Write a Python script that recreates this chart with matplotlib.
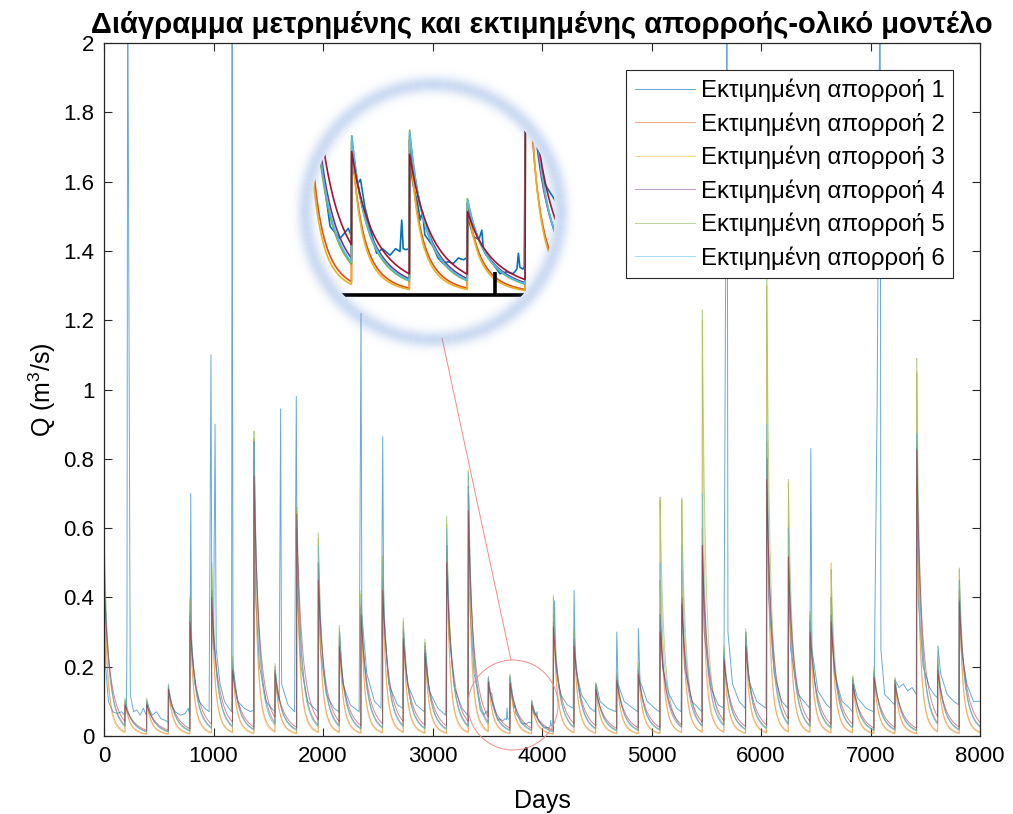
import numpy as np
import matplotlib
matplotlib.use("Agg")
import matplotlib.pyplot as plt
from matplotlib.patches import Circle, Wedge

# -------------------------------
# 1. Data
# -------------------------------

# start day of every model event (the vertical jumps)
event_days = [0, 192, 390, 588, 785, 983, 1174, 1370, 1562, 1760, 1957,
              2149, 2347, 2545, 2733, 2931, 3129, 3327, 3510, 3708, 3906,
              4104, 4293, 4491, 4683, 4880, 5078, 5276, 5464, 5662, 5860,
              6052, 6250, 6448, 6640, 6838, 7032, 7224, 7422, 7614, 7811]

# peak of each model run at every event
peak_orange = [.55, .10, .10, .14, .36, .42, .21, .80, .19, .60, .50,
               .29, .38, .46, .31, .26, .55, .70, .165, .168, .10,
               .35, .28, .145, .175, .19, .45, .48, .60, .24, .29,
               .85, .60, .33, .40, .165, .18, .16, .85, .21, .42]
peak_yellow = [.58, .10, .10, .145, .39, .48, .22, .86, .20, .65, .57,
               .31, .41, .50, .33, .27, .61, .75, .168, .172, .10,
               .40, .30, .15, .18, .20, .68, .68, 1.20, .25, .30,
               1.30, .73, .35, .50, .17, .19, .165, 1.05, .22, .48]
peak_purple = [.50, .095, .095, .14, .35, .42, .20, .85, .19, .60, .50,
               .28, .37, .45, .30, .25, .55, .72, .165, .168, .098,
               .33, .28, .145, .17, .19, .35, .40, .55, .23, .28,
               .80, .517, .33, .35, .16, .18, .16, .83, .20, .40]
peak_green = [.60, .11, .11, .15, .40, .50, .23, .88, .21, .66, .586,
              .32, .42, .52, .34, .28, .633, .768, .172, .178, .104,
              .407, .31, .155, .185, .21, .69, .687, 1.23, .26, .31,
              1.35, .74, .36, .48, .175, .20, .17, 1.09, .23, .485]
peak_cyan = [.55, .105, .105, .15, .38, .45, .22, .85, .20, .63, .55,
             .30, .40, .50, .33, .27, .60, .76, .172, .176, .103,
             .38, .30, .15, .18, .20, .50, .55, .70, .25, .30,
             .90, .60, .35, .40, .17, .19, .165, .874, .22, .45]
peak_red = [.45, .09, .09, .135, .33, .40, .19, .75, .18, .64, .45,
            .26, .35, .42, .28, .24, .50, .65, .155, .152, .09,
            .315, .26, .135, .16, .18, .30, .38, .55, .22, .26,
            .74, .517, .30, .33, .15, .17, .15, .825, .19, .39]

# how fast each run drops after a peak
rec_orange, rec_yellow, rec_purple = 0.045, 0.05, 0.028
rec_green, rec_cyan, rec_red = 0.031, 0.03, 0.023

# measured runoff (day, value)
obs_days = [0, 15, 40, 80, 120, 160, 190, 205, 210, 216, 240, 270, 300, 330, 360, 385,
            392, 410, 440, 480, 520, 560, 585, 590, 610, 650, 700, 740, 770, 783,
            787, 792, 800, 830, 870, 920, 960, 977, 985, 1000, 1014, 1025, 1060, 1100,
            1140, 1165, 1170, 1178, 1220, 1280, 1340, 1365, 1372, 1385, 1420, 1480,
            1530, 1560, 1565, 1600, 1613, 1622, 1680, 1740, 1756, 1765, 1800, 1860,
            1920, 1955, 1960, 1975, 2030, 2100, 2145, 2152, 2180, 2250, 2330, 2347,
            2355, 2400, 2470, 2530, 2545, 2555, 2600, 2680, 2728, 2736, 2770, 2850,
            2925, 2934, 2970, 3050, 3120, 3132, 3150, 3200, 3270, 3320, 3330, 3345,
            3380, 3411, 3436, 3470, 3498, 3507, 3510, 3515, 3530, 3540, 3555, 3575,
            3595, 3615, 3641, 3660, 3675, 3681, 3686, 3696, 3705, 3709, 3715, 3721,
            3735, 3744, 3752, 3760, 3789, 3805, 3823, 3840, 3857, 3875, 3892, 3903,
            3906, 3915, 3926, 3945, 3955, 3960, 3966, 3990, 4017, 4040, 4062, 4075,
            4080, 4085, 4095, 4100, 4106, 4115, 4125, 4170, 4230, 4285, 4293, 4305,
            4360, 4440, 4485, 4495, 4530, 4600, 4675, 4683, 4695, 4750, 4830, 4875,
            4880, 4895, 4960, 5030, 5072, 5080, 5100, 5160, 5230, 5270, 5280, 5300,
            5370, 5430, 5460, 5466, 5480, 5540, 5610, 5660, 5690, 5698, 5740, 5800,
            5855, 5862, 5890, 5960, 6045, 6058, 6070, 6120, 6190, 6245, 6252, 6270,
            6340, 6420, 6445, 6455, 6465, 6520, 6600, 6635, 6642, 6670, 6740, 6810,
            6835, 6840, 6880, 6960, 7028, 7035, 7060, 7088, 7095, 7130, 7190, 7220,
            7226, 7260, 7300, 7340, 7380, 7418, 7422, 7435, 7480, 7540, 7580, 7610,
            7616, 7640, 7700, 7760, 7805, 7811, 7830, 7880, 7940, 8000]
obs_vals = [0.45, 0.2, 0.1, 0.07, 0.065, 0.07, 0.06, 0.08, 0.3, 2.3, 0.12, 0.07, 0.075, 0.06, 0.08, 0.06,
            0.1, 0.08, 0.06, 0.07, 0.05, 0.045, 0.04, 0.13, 0.09, 0.07, 0.06, 0.065, 0.08, 0.06,
            0.3, 0.70, 0.25, 0.15, 0.1, 0.08, 0.07, 1.10, 0.35, 0.25, 0.90, 0.25, 0.15, 0.1,
            0.08, 0.07, 2.3, 0.2, 0.1, 0.08, 0.07, 0.075, 0.85, 0.4, 0.2, 0.1,
            0.08, 0.07, 0.15, 0.1, 0.944, 0.15, 0.09, 0.07, 0.98, 0.4, 0.2, 0.1,
            0.08, 0.07, 0.5, 0.25, 0.12, 0.08, 0.07, 0.3, 0.15, 0.09, 0.07, 1.22,
            0.35, 0.18, 0.1, 0.08, 0.864, 0.35, 0.15, 0.09, 0.08, 0.3, 0.15, 0.09,
            0.07, 0.26, 0.13, 0.08, 0.06, 0.55, 0.3, 0.14, 0.08, 0.06, 0.7, 0.35,
            0.18, 0.1315, 0.074, 0.061, 0.072, 0.065, 0.157, 0.135, 0.12, 0.125, 0.095, 0.07,
            0.045, 0.05, 0.043, 0.05, 0.047, 0.081, 0.05, 0.049, 0.05, 0.15, 0.13, 0.117,
            0.1, 0.081, 0.09, 0.065, 0.052, 0.04, 0.034, 0.036, 0.034, 0.04, 0.038, 0.04,
            0.085, 0.075, 0.063, 0.06, 0.07, 0.05, 0.045, 0.035, 0.023, 0.025, 0.023, 0.028,
            0.045, 0.03, 0.028, 0.03, 0.3, 0.39, 0.2, 0.12, 0.09, 0.08, 0.42, 0.2,
            0.12, 0.08, 0.07, 0.15, 0.1, 0.08, 0.07, 0.30, 0.15, 0.1, 0.08, 0.07,
            0.31, 0.16, 0.1, 0.08, 0.07, 0.35, 0.2, 0.12, 0.08, 0.07, 0.4, 0.2,
            0.1, 0.08, 0.07, 0.55, 0.3, 0.14, 0.09, 0.08, 2.3, 0.3, 0.15, 0.1,
            0.08, 0.3, 0.16, 0.1, 0.08, 0.8, 0.4, 0.18, 0.1, 0.08, 0.45, 0.25,
            0.12, 0.09, 0.08, 0.83, 0.25, 0.13, 0.09, 0.08, 0.35, 0.18, 0.1, 0.08,
            0.07, 0.16, 0.11, 0.08, 0.07, 0.18, 0.94, 2.3, 0.25, 0.12, 0.1, 0.09,
            0.16, 0.14, 0.15, 0.13, 0.14, 0.12, 0.87, 0.4, 0.2, 0.14, 0.12, 0.11,
            0.26, 0.18, 0.12, 0.1, 0.09, 0.45, 0.25, 0.15, 0.1, 0.1]

legend_labels = ["Εκτιμημένη απορροή 1", "Εκτιμημένη απορροή 2", "Εκτιμημένη απορροή 3",
                 "Εκτιμημένη απορροή 4", "Εκτιμημένη απορροή 5", "Εκτιμημένη απορροή 6"]

x_ticks = [0, 1000, 2000, 3000, 4000, 5000, 6000, 7000, 8000]
y_ticks = [0, 0.2, 0.4, 0.6, 0.8, 1, 1.2, 1.4, 1.6, 1.8, 2]
y_ticklabels = ["0", "0.2", "0.4", "0.6", "0.8", "1", "1.2", "1.4", "1.6", "1.8", "2"]

# -------------------------------
# 2. Build the model runs (daily)
# -------------------------------

days = np.arange(0, 8001)


def recession(peak, t, c, b=1.3):
    return (peak ** (1 - b) + (b - 1) * c * t) ** (1 / (1 - b))


def model_run(peaks, c):
    q = np.zeros(len(days))
    for k, start in enumerate(event_days):
        end = event_days[k + 1] if k + 1 < len(event_days) else days[-1] + 1
        m = (days >= start) & (days < end)
        q[m] = recession(peaks[k], days[m] - start, c)
    return q


runs = [
    (model_run(peak_orange, rec_orange), (0.850, 0.325, 0.098)),
    (model_run(peak_yellow, rec_yellow), (0.929, 0.694, 0.125)),
    (model_run(peak_purple, rec_purple), (0.494, 0.184, 0.556)),
    (model_run(peak_green, rec_green), (0.466, 0.674, 0.188)),
    (model_run(peak_cyan, rec_cyan), (0.301, 0.745, 0.933)),
    (model_run(peak_red, rec_red), (0.635, 0.078, 0.184)),
]
obs_color = (0.0, 0.447, 0.741)

# -------------------------------
# 3. Main plot
# -------------------------------

plt.rcParams['font.family'] = ['Liberation Sans', 'DejaVu Sans']
plt.rcParams['mathtext.fontset'] = 'custom'
plt.rcParams['mathtext.rm'] = 'Liberation Sans'
plt.rcParams['mathtext.it'] = 'Liberation Sans:italic'

W, H = 1013, 814
fig = plt.figure(figsize=(W / 100, H / 100), dpi=100)
ax = fig.add_axes([104 / W, 78 / H, 876 / W, 693 / H])

lines = []
l, = ax.plot(obs_days, obs_vals, color=obs_color, lw=0.7, alpha=0.6)
lines.append(l)
for q, col in runs:
    l, = ax.plot(days, q, color=col, lw=0.7, alpha=0.5)
    lines.append(l)

ax.set_xlim(0, 8000)
ax.set_ylim(0, 2)
ax.set_xticks(x_ticks)
ax.set_yticks(y_ticks)
ax.set_yticklabels(y_ticklabels)
ax.tick_params(direction='in', top=True, right=True, length=6, width=0.8,
               labelsize=16, pad=7, colors=(0.15, 0.15, 0.15), labelcolor='black')
for sp in ax.spines.values():
    sp.set_color((0.15, 0.15, 0.15))
    sp.set_linewidth(0.9)

ax.set_xlabel("Days", fontsize=18, labelpad=16)
ax.set_ylabel("Q (m$^3$/s)", fontsize=18, labelpad=4)
ax.set_title("Διάγραμμα μετρημένης και εκτιμημένης απορροής-ολικό μοντέλο",
             fontsize=21, fontweight='bold', pad=7)

leg = ax.legend(lines[:6], legend_labels, loc='upper right',
                bbox_to_anchor=(953 / W, 1 - 70 / H), bbox_transform=fig.transFigure,
                fontsize=17.3, handlelength=2.5, handletextpad=0.25, labelspacing=0.42,
                borderpad=0.35, borderaxespad=0, fancybox=False, framealpha=1)
leg.get_frame().set_edgecolor((0.15, 0.15, 0.15))
leg.get_frame().set_linewidth(0.8)

# -------------------------------
# 4. Magnifier (circle, link, zoomed view, glow)
# -------------------------------

ov = fig.add_axes([0, 0, 1, 1], zorder=2)
ov.set_xlim(0, W)
ov.set_ylim(H, 0)
ov.axis('off')
ov.add_patch(Circle((513, 705), 45, fill=False, ec=(0.93, 0.55, 0.55), lw=0.7))
ov.plot([442, 511], [338, 660], color=(0.93, 0.55, 0.55), lw=0.7)

ax_in = fig.add_axes([311 / W, (H - 334) / H, 244 / W, 244 / H], zorder=3)
ax_in.set_xlim(3370.7, 4205.2)
ax_in.set_ylim(-0.0422, 0.2216)
ax_in.axis('off')
disc = Circle((0.5, 0.5), 0.5, transform=ax_in.transAxes, fc='white', ec='none')
ax_in.add_patch(disc)

l, = ax_in.plot(obs_days, obs_vals, color=obs_color, lw=1.2)
l.set_clip_path(disc)
for q, col in runs:
    l, = ax_in.plot(days, q, color=col, lw=1.2)
    l.set_clip_path(disc)
l, = ax_in.plot([3300, 4300], [0, 0], color='black', lw=2.6, solid_capstyle='butt')
l.set_clip_path(disc)
l, = ax_in.plot([4000, 4000], [0, 0.025], color='black', lw=2.6, solid_capstyle='butt')
l.set_clip_path(disc)

gl = fig.add_axes([0, 0, 1, 1], zorder=4)
gl.set_xlim(0, W)
gl.set_ylim(H, 0)
gl.axis('off')
for r in range(106, 152):
    a = 0.3 * np.exp(-((r - 127) / 8.0) ** 2)
    gl.add_patch(Wedge((433, 212), r + 1, 0, 360, width=1,
                       color=(0.33, 0.53, 0.84), alpha=a, lw=0))

fig.savefig("out.png", dpi=100)
